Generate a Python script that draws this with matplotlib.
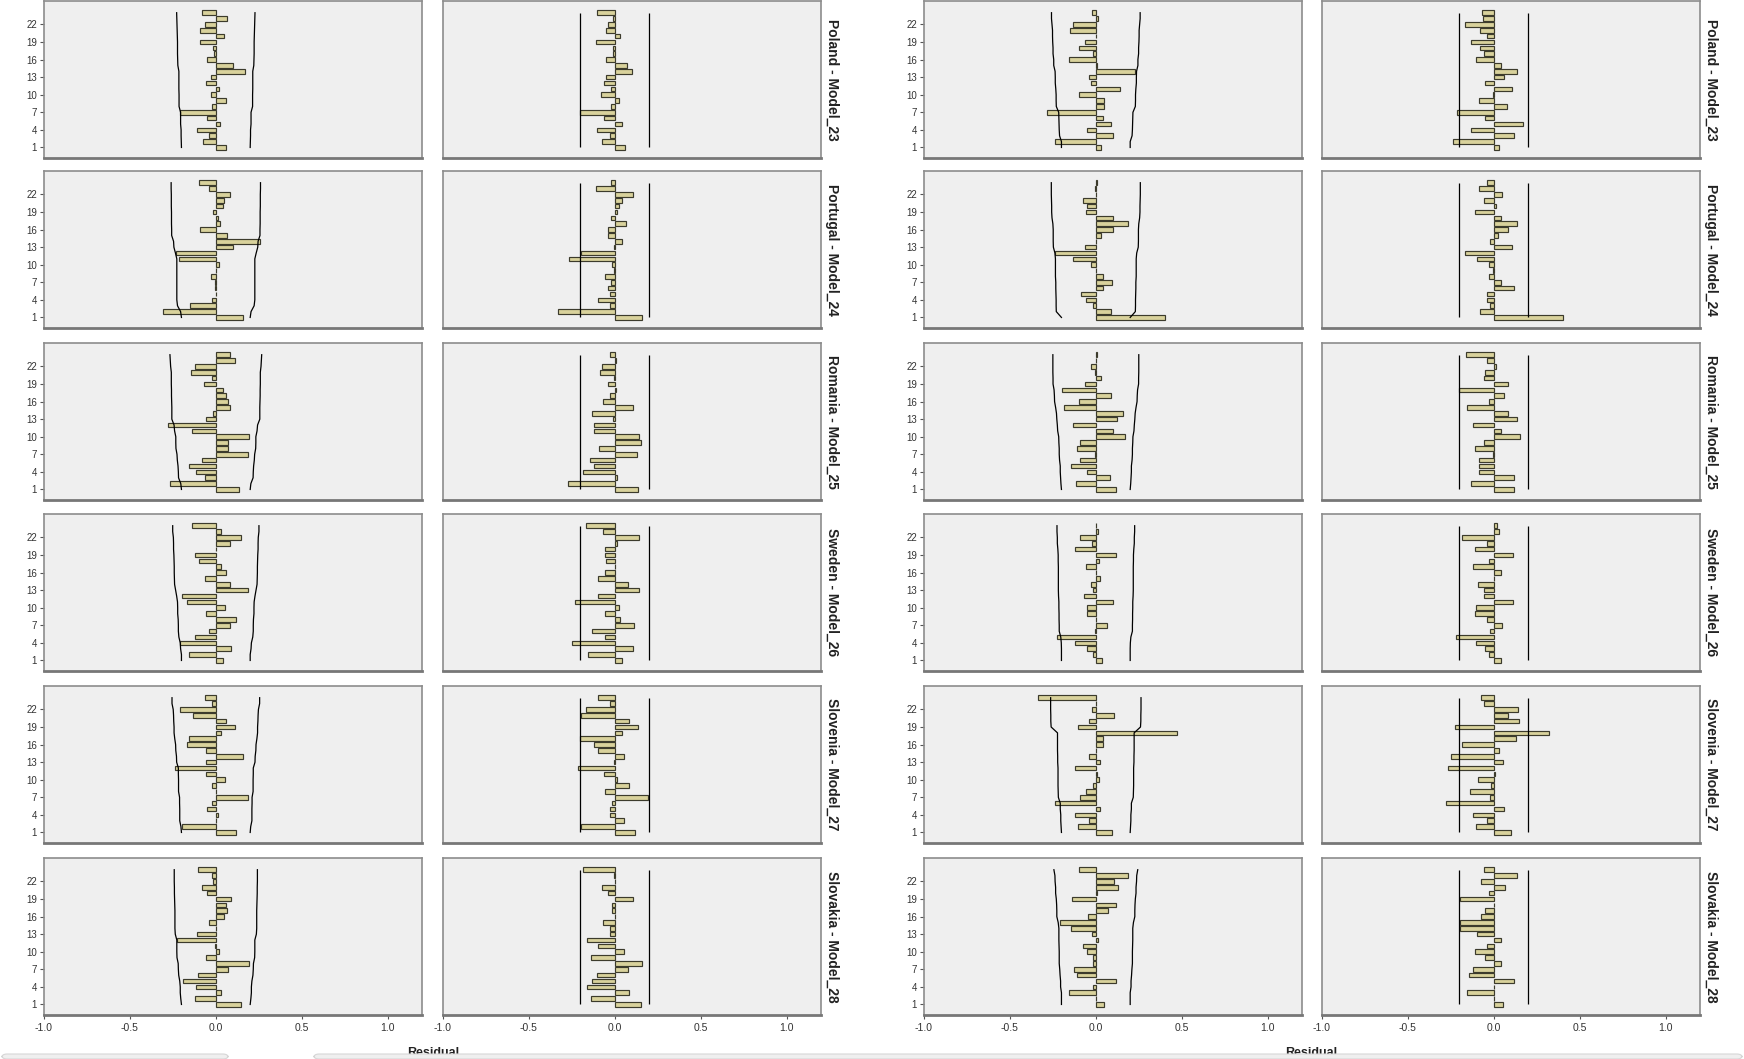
import matplotlib
matplotlib.use("Agg")
import matplotlib.pyplot as plt
from matplotlib.patches import FancyBboxPatch

plt.rcParams['font.family'] = ['Liberation Sans', 'DejaVu Sans']

# ---------------- data ----------------
lags = list(range(1, 25))
ytick_lags = [1, 4, 7, 10, 13, 16, 19, 22]
xticks = [-1.0, -0.5, 0.0, 0.5, 1.0]
xtick_labels = ['-1.0', '-0.5', '0.0', '0.5', '1.0']
row_names = ['Poland - Model_23', 'Portugal - Model_24', 'Romania - Model_25',
             'Sweden - Model_26', 'Slovenia - Model_27', 'Slovakia - Model_28']
x_label = 'Residual'
pacf_limit = 0.2

# Poland
poland_acf_1 = [0.06, -0.075, -0.04, -0.11, 0.025, -0.05, -0.21, -0.02, 0.06, -0.03, 0.02, -0.055,
                -0.03, 0.17, 0.10, -0.05, -0.01, -0.015, -0.09, 0.05, -0.09, -0.065, 0.065, -0.08]
poland_pacf_1 = [0.06, -0.075, -0.03, -0.105, 0.04, -0.065, -0.20, -0.025, 0.025, -0.08, -0.025, -0.065,
                 -0.05, 0.10, 0.07, -0.05, -0.01, -0.01, -0.11, 0.03, -0.05, -0.04, -0.01, -0.105]
poland_ucl_1 = [0.200, 0.201, 0.202, 0.202, 0.205, 0.205, 0.205, 0.214, 0.214, 0.214, 0.215, 0.215,
                0.215, 0.215, 0.221, 0.222, 0.223, 0.223, 0.223, 0.224, 0.225, 0.226, 0.227, 0.228]
poland_acf_2 = [0.03, -0.24, 0.10, -0.05, 0.09, 0.04, -0.285, 0.05, 0.05, -0.10, 0.14, -0.03,
                -0.04, 0.23, 0.005, -0.155, -0.015, -0.10, -0.065, 0.0, -0.15, -0.13, 0.015, -0.02]
poland_pacf_2 = [0.03, -0.235, 0.12, -0.13, 0.17, -0.05, -0.215, 0.075, -0.085, -0.005, 0.105, -0.05,
                 0.06, 0.135, 0.04, -0.105, -0.055, -0.08, -0.13, -0.04, -0.08, -0.17, -0.065, -0.07]
poland_ucl_2 = [0.200, 0.200, 0.211, 0.213, 0.214, 0.215, 0.216, 0.230, 0.231, 0.231, 0.233, 0.236,
                0.236, 0.237, 0.245, 0.245, 0.249, 0.249, 0.251, 0.252, 0.252, 0.255, 0.258, 0.258]

# Portugal
portugal_acf_1 = [0.16, -0.31, -0.15, -0.02, 0.0, -0.005, -0.005, -0.03, 0.0, 0.02, -0.215, -0.23,
                  0.10, 0.26, 0.065, -0.09, 0.025, 0.015, -0.015, 0.04, 0.05, 0.085, -0.04, -0.10]
portugal_pacf_1 = [0.16, -0.33, -0.03, -0.095, -0.03, -0.04, -0.02, -0.055, -0.005, -0.015, -0.265, -0.195,
                   -0.005, 0.04, -0.04, -0.04, 0.065, -0.025, 0.01, 0.025, 0.04, 0.105, -0.11, -0.02]
portugal_ucl_1 = [0.200, 0.205, 0.223, 0.227, 0.227, 0.227, 0.227, 0.227, 0.227, 0.227, 0.227, 0.235,
                  0.244, 0.246, 0.257, 0.257, 0.258, 0.258, 0.258, 0.259, 0.259, 0.259, 0.260, 0.260]
portugal_acf_2 = [0.40, 0.09, -0.015, -0.06, -0.085, 0.04, 0.095, 0.04, 0.0, -0.03, -0.13, -0.235,
                  -0.065, 0.0, 0.03, 0.10, 0.185, 0.10, -0.055, -0.05, -0.075, 0.0, -0.005, 0.005]
portugal_pacf_2 = [0.40, -0.08, -0.02, -0.04, -0.04, 0.12, 0.04, -0.03, -0.005, -0.03, -0.10, -0.17,
                   0.105, -0.02, 0.025, 0.08, 0.135, 0.04, -0.11, 0.015, -0.06, 0.05, -0.085, -0.04]
portugal_ucl_2 = [0.200, 0.230, 0.231, 0.231, 0.232, 0.233, 0.233, 0.235, 0.235, 0.235, 0.235, 0.238,
                  0.247, 0.248, 0.248, 0.248, 0.250, 0.255, 0.257, 0.257, 0.258, 0.259, 0.259, 0.259]

# Romania
romania_acf_1 = [0.135, -0.265, -0.065, -0.115, -0.155, -0.08, 0.185, 0.07, 0.07, 0.195, -0.14, -0.28,
                 -0.055, -0.015, 0.08, 0.07, 0.06, 0.04, -0.07, -0.02, -0.145, -0.12, 0.11, 0.085]
romania_pacf_1 = [0.135, -0.275, 0.015, -0.185, -0.12, -0.145, 0.13, -0.09, 0.15, 0.14, -0.12, -0.12,
                  -0.01, -0.13, 0.105, -0.07, -0.03, 0.005, -0.04, -0.005, -0.085, -0.075, 0.005, -0.03]
romania_ucl_1 = [0.200, 0.204, 0.217, 0.218, 0.220, 0.224, 0.226, 0.232, 0.233, 0.233, 0.240, 0.243,
                 0.256, 0.256, 0.256, 0.257, 0.258, 0.258, 0.259, 0.259, 0.259, 0.263, 0.265, 0.267]
romania_acf_2 = [0.12, -0.115, 0.08, -0.05, -0.145, -0.09, -0.005, -0.11, -0.09, 0.17, 0.10, -0.13,
                 0.125, 0.16, -0.185, -0.10, 0.09, -0.195, -0.065, 0.03, -0.005, -0.03, 0.0, 0.005]
romania_pacf_2 = [0.12, -0.13, 0.12, -0.085, -0.085, -0.085, -0.005, -0.11, -0.06, 0.15, 0.04, -0.12,
                  0.135, 0.08, -0.155, -0.03, 0.06, -0.20, 0.08, -0.06, -0.05, 0.015, -0.04, -0.16]
romania_ucl_2 = [0.200, 0.203, 0.205, 0.207, 0.207, 0.211, 0.213, 0.213, 0.215, 0.216, 0.222, 0.224,
                 0.227, 0.229, 0.234, 0.240, 0.241, 0.243, 0.249, 0.249, 0.250, 0.250, 0.250, 0.250]

# Sweden
sweden_acf_1 = [0.04, -0.155, 0.09, -0.21, -0.12, -0.04, 0.08, 0.12, -0.055, 0.055, -0.165, -0.195,
                0.185, 0.08, -0.065, 0.06, 0.03, -0.095, -0.12, 0.0, 0.08, 0.145, 0.03, -0.14]
sweden_pacf_1 = [0.04, -0.155, 0.105, -0.25, -0.06, -0.135, 0.11, 0.03, -0.06, 0.025, -0.23, -0.10,
                 0.14, 0.075, -0.10, -0.06, 0.0, -0.05, -0.055, -0.055, 0.01, 0.14, -0.07, -0.165]
sweden_ucl_1 = [0.200, 0.200, 0.205, 0.207, 0.215, 0.218, 0.218, 0.219, 0.222, 0.222, 0.223, 0.228,
                0.234, 0.240, 0.241, 0.242, 0.242, 0.243, 0.244, 0.246, 0.246, 0.247, 0.251, 0.251]
sweden_acf_2 = [0.035, -0.015, -0.05, -0.12, -0.225, -0.005, 0.065, 0.0, -0.05, -0.05, 0.10, -0.07,
                -0.015, -0.03, 0.025, 0.0, -0.06, 0.02, 0.12, -0.12, -0.025, -0.09, 0.01, 0.0]
sweden_pacf_2 = [0.04, -0.03, -0.05, -0.105, -0.22, -0.02, 0.05, -0.04, -0.11, -0.105, 0.11, -0.06,
                 -0.055, -0.09, 0.0, 0.04, -0.12, -0.03, 0.11, -0.11, -0.04, -0.185, 0.03, 0.02]
sweden_ucl_2 = [0.200, 0.200, 0.200, 0.201, 0.204, 0.213, 0.213, 0.214, 0.214, 0.215, 0.215, 0.217,
                0.218, 0.218, 0.218, 0.218, 0.218, 0.219, 0.219, 0.221, 0.224, 0.224, 0.226, 0.226]

# Slovenia
slovenia_acf_1 = [0.12, -0.195, 0.0, 0.015, -0.05, -0.025, 0.185, 0.0, -0.02, 0.055, -0.06, -0.235,
                  -0.06, 0.16, -0.06, -0.17, -0.155, 0.03, 0.11, 0.06, -0.13, -0.21, -0.02, -0.065]
slovenia_pacf_1 = [0.12, -0.195, 0.055, -0.03, -0.03, -0.015, 0.195, -0.055, 0.08, 0.01, -0.065, -0.215,
                   -0.005, 0.055, -0.095, -0.12, -0.20, 0.04, 0.135, 0.085, -0.195, -0.17, -0.03, -0.10]
slovenia_ucl_1 = [0.200, 0.203, 0.210, 0.210, 0.210, 0.211, 0.211, 0.217, 0.217, 0.217, 0.218, 0.218,
                  0.228, 0.229, 0.233, 0.234, 0.239, 0.243, 0.243, 0.245, 0.246, 0.248, 0.255, 0.255]
slovenia_acf_2 = [0.095, -0.105, -0.04, -0.12, 0.025, -0.235, -0.09, -0.055, -0.015, 0.02, 0.005, -0.12,
                  0.025, -0.04, 0.0, 0.04, 0.04, 0.47, -0.105, -0.04, 0.105, -0.02, 0.0, -0.335]
slovenia_pacf_2 = [0.10, -0.105, -0.04, -0.12, 0.06, -0.28, -0.02, -0.14, -0.015, -0.09, 0.005, -0.265,
                   0.055, -0.25, 0.03, -0.185, 0.13, 0.32, -0.225, 0.145, 0.08, 0.14, -0.06, -0.075]
slovenia_ucl_2 = [0.200, 0.202, 0.204, 0.204, 0.207, 0.207, 0.218, 0.219, 0.220, 0.220, 0.220, 0.220,
                  0.222, 0.222, 0.223, 0.223, 0.223, 0.223, 0.260, 0.262, 0.262, 0.263, 0.263, 0.263]

# Slovakia
slovakia_acf_1 = [0.145, -0.12, 0.03, -0.115, -0.19, -0.105, 0.07, 0.195, -0.055, 0.02, -0.005, -0.225,
                  -0.11, 0.0, -0.04, 0.05, 0.065, 0.06, 0.09, -0.05, -0.08, -0.015, -0.02, -0.105]
slovakia_pacf_1 = [0.15, -0.14, 0.08, -0.16, -0.135, -0.105, 0.075, 0.16, -0.14, 0.055, -0.10, -0.16,
                   -0.03, -0.03, -0.07, 0.0, -0.015, -0.015, 0.105, -0.04, -0.075, 0.0, -0.005, -0.185]
slovakia_ucl_1 = [0.200, 0.204, 0.207, 0.207, 0.210, 0.216, 0.218, 0.219, 0.226, 0.227, 0.227, 0.227,
                  0.236, 0.238, 0.238, 0.238, 0.238, 0.239, 0.240, 0.241, 0.241, 0.242, 0.242, 0.242]
slovakia_acf_2 = [0.05, 0.0, -0.155, -0.015, 0.12, -0.11, -0.125, -0.015, -0.015, -0.05, -0.075, 0.015,
                  -0.02, -0.145, -0.21, -0.045, 0.07, 0.115, -0.14, 0.005, 0.13, 0.105, 0.19, -0.10]
slovakia_pacf_2 = [0.055, 0.0, -0.155, 0.0, 0.12, -0.145, -0.12, 0.04, -0.05, -0.11, -0.04, 0.04,
                   -0.10, -0.195, -0.195, -0.075, -0.05, 0.0, -0.195, -0.03, 0.065, -0.075, 0.135, -0.06]
slovakia_ucl_2 = [0.200, 0.200, 0.200, 0.205, 0.205, 0.208, 0.210, 0.213, 0.213, 0.213, 0.214, 0.215,
                  0.215, 0.215, 0.219, 0.227, 0.227, 0.228, 0.230, 0.234, 0.234, 0.237, 0.238, 0.244]

rows = [
    (poland_acf_1, poland_ucl_1, poland_pacf_1, poland_acf_2, poland_ucl_2, poland_pacf_2),
    (portugal_acf_1, portugal_ucl_1, portugal_pacf_1, portugal_acf_2, portugal_ucl_2, portugal_pacf_2),
    (romania_acf_1, romania_ucl_1, romania_pacf_1, romania_acf_2, romania_ucl_2, romania_pacf_2),
    (sweden_acf_1, sweden_ucl_1, sweden_pacf_1, sweden_acf_2, sweden_ucl_2, sweden_pacf_2),
    (slovenia_acf_1, slovenia_ucl_1, slovenia_pacf_1, slovenia_acf_2, slovenia_ucl_2, slovenia_pacf_2),
    (slovakia_acf_1, slovakia_ucl_1, slovakia_pacf_1, slovakia_acf_2, slovakia_ucl_2, slovakia_pacf_2),
]

# ---------------- styling / layout ----------------
W, H = 1744, 1059
BAR_FILL = '#d9d29c'
BAR_EDGE = '#3c3b2c'
PANEL_BG = '#efefef'
FRAME = '#8c8c8c'

fig = plt.figure(figsize=(W / 100, H / 100), dpi=100)
fig.patch.set_facecolor('white')

col_left = [44, 443, 924, 1322]
col_w = 378
row_top = [1, 171, 343, 514, 686, 858]
row_h = 157
label_x = [832, 1711]
residual_x = [433, 1311]


def style_axis(ax, bottom_row, show_y):
    ax.set_facecolor(PANEL_BG)
    ax.set_xlim(-1.0, 1.2)
    ax.set_ylim(-0.8, 26.0)
    for side in ['top', 'left', 'right']:
        ax.spines[side].set_color(FRAME)
        ax.spines[side].set_linewidth(1.2)
    ax.spines['bottom'].set_color('#777777')
    ax.spines['bottom'].set_linewidth(2.0)
    if bottom_row:
        ax.set_xticks(xticks)
        ax.set_xticklabels(xtick_labels, fontsize=7.5, color='#333333')
        ax.tick_params(axis='x', length=3, width=0.8, color='#555555', pad=3)
    else:
        ax.set_xticks([])
    if show_y:
        ax.set_yticks(ytick_lags)
        ax.set_yticklabels([str(v) for v in ytick_lags], fontsize=7, color='#333333')
        ax.tick_params(axis='y', length=3, width=0.8, color='#555555', pad=2)
    else:
        ax.set_yticks([])


for r, row in enumerate(rows):
    acf1, ucl1, pacf1, acf2, ucl2, pacf2 = row
    panels = [(acf1, ucl1), (pacf1, None), (acf2, ucl2), (pacf2, None)]
    for c, (vals, ucl) in enumerate(panels):
        ax = fig.add_axes([col_left[c] / W, 1 - (row_top[r] + row_h) / H,
                           col_w / W, row_h / H])
        style_axis(ax, bottom_row=(r == len(rows) - 1), show_y=(c in (0, 2)))
        ax.barh(lags, vals, height=0.78, left=0, color=BAR_FILL,
                edgecolor=BAR_EDGE, linewidth=0.85, zorder=3)
        if ucl is not None:
            ax.plot(ucl, lags, color='black', linewidth=0.9, zorder=4)
            ax.plot([-u for u in ucl], lags, color='black', linewidth=0.9, zorder=4)
        else:
            ax.vlines([-pacf_limit, pacf_limit], lags[0], lags[-1],
                      colors='black', linewidth=0.9, zorder=4)
    yc = 1 - (row_top[r] + row_h / 2) / H
    for lx in label_x:
        fig.text(lx / W, yc, row_names[r], rotation=-90, ha='center', va='center',
                 fontsize=10, fontweight='bold', color='#222222')

for rx in residual_x:
    fig.text(rx / W, 1 - 1056 / H, x_label, ha='center', va='baseline',
             fontsize=9, fontweight='bold', color='#222222')

# faint interface boxes along the bottom edge
for x0, x1 in [(2, 228), (314, 1742)]:
    box = FancyBboxPatch((x0 / W, 0.0), (x1 - x0) / W, 5 / H,
                         boxstyle='round,pad=0,rounding_size=0.003',
                         transform=fig.transFigure, facecolor='#efefef',
                         edgecolor='#d6d6d6', linewidth=0.8, zorder=10)
    fig.patches.append(box)

fig.savefig('out.png', dpi=100)
